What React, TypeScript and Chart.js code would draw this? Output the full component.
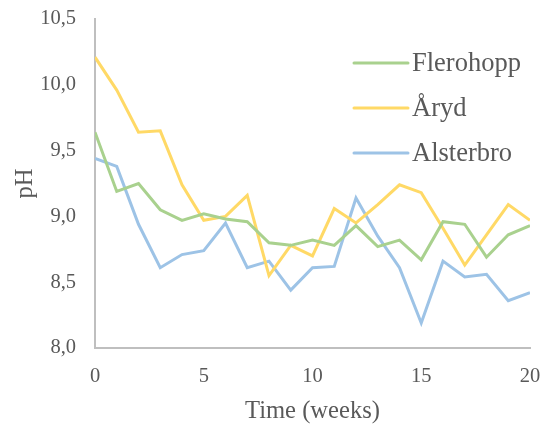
import React, { useEffect, useRef } from "react";
import { Chart, registerables } from "chart.js";

Chart.register(...registerables);

// pH measured weekly at three sites
const weeks = [0, 1, 2, 3, 4, 5, 6, 7, 8, 9, 10, 11, 12, 13, 14, 15, 16, 17, 18, 19, 20];
const flerohopp = [9.64, 9.19, 9.25, 9.05, 8.97, 9.02, 8.98, 8.96, 8.8, 8.78, 8.82, 8.78, 8.93, 8.77, 8.82, 8.67, 8.96, 8.94, 8.69, 8.86, 8.93];
const aryd = [10.21, 9.96, 9.64, 9.65, 9.24, 8.97, 9.0, 9.16, 8.55, 8.78, 8.7, 9.06, 8.95, 9.09, 9.24, 9.18, 8.91, 8.63, 8.86, 9.09, 8.97];
const alsterbro = [9.44, 9.38, 8.94, 8.61, 8.71, 8.74, 8.95, 8.61, 8.66, 8.44, 8.61, 8.62, 9.14, 8.85, 8.61, 8.19, 8.66, 8.54, 8.56, 8.36, 8.42];

const seriesNames = ["Flerohopp", "Åryd", "Alsterbro"];
const seriesColors = ["#A9D18E", "#FFD966", "#9DC3E6"];
const yMin = 8.0;
const yMax = 10.5;
const yStep = 0.5;
const xMin = 0;
const xMax = 20;
const xStep = 5;
const xTitle = "Time (weeks)";
const yTitle = "pH";

const FONT = '"Liberation Serif", "Times New Roman", serif';
const TEXT = "#595959";
const AXIS = "#BFBFBF";

// Legend drawn inside the plot area, at its upper right
const insideLegend = {
  id: "insideLegend",
  afterDatasetsDraw(chart: any) {
    const { ctx, chartArea } = chart;
    ctx.save();
    const x0 = chartArea.right - 176;
    chart.data.datasets.forEach((ds: any, i: number) => {
      const y = chartArea.top + 44 + i * 45;
      ctx.strokeStyle = ds.borderColor;
      ctx.lineWidth = 3;
      ctx.lineCap = "round";
      ctx.beginPath();
      ctx.moveTo(x0, y);
      ctx.lineTo(x0 + 54, y);
      ctx.stroke();
      ctx.fillStyle = TEXT;
      ctx.font = `26.5px ${FONT}`;
      ctx.textBaseline = "middle";
      ctx.textAlign = "left";
      ctx.fillText(ds.label, x0 + 58, y + 1);
    });
    ctx.restore();
  },
};

export default function App() {
  const canvasRef = useRef<HTMLCanvasElement | null>(null);

  useEffect(() => {
    document.body.style.margin = "0";
    const series = [flerohopp, aryd, alsterbro];
    const chart = new Chart(canvasRef.current as HTMLCanvasElement, {
      type: "line",
      data: {
        datasets: series.map((vals, i) => ({
          label: seriesNames[i],
          data: weeks.map((w, j) => ({ x: w, y: vals[j] })),
          borderColor: seriesColors[i],
          backgroundColor: seriesColors[i],
          borderWidth: 3,
          pointRadius: 0,
          tension: 0,
          fill: false,
        })),
      },
      options: {
        animation: false,
        responsive: false,
        devicePixelRatio: 1,
        layout: { padding: { top: 19, right: 20, left: 0, bottom: 0 } },
        plugins: {
          legend: { display: false },
          tooltip: { enabled: false },
        },
        scales: {
          x: {
            type: "linear",
            min: xMin,
            max: xMax,
            grid: { display: false, drawTicks: false },
            border: { display: true, color: AXIS, width: 2 },
            ticks: {
              stepSize: xStep,
              padding: 16,
              color: TEXT,
              font: { family: FONT, size: 20.5 },
              maxRotation: 0,
            },
            title: {
              display: true,
              text: xTitle,
              color: TEXT,
              font: { family: FONT, size: 24.6 },
              padding: { top: 0, bottom: 0 },
            },
            afterFit(scale: any) {
              scale.height = 78;
              scale.paddingLeft = 0;
              scale.paddingRight = 0;
            },
          },
          y: {
            type: "linear",
            min: yMin,
            max: yMax,
            grid: { display: false, drawTicks: false },
            border: { display: true, color: AXIS, width: 2 },
            ticks: {
              stepSize: yStep,
              padding: 19,
              color: TEXT,
              font: { family: FONT, size: 20.5 },
              callback: (v: any) => Number(v).toFixed(1).replace(".", ","),
            },
            title: {
              display: true,
              text: yTitle,
              color: TEXT,
              font: { family: FONT, size: 24.6 },
              padding: { top: 11, bottom: 0 },
            },
            afterFit(scale: any) {
              scale.width = 95;
              scale.paddingTop = 0;
              scale.paddingBottom = 0;
            },
          },
        },
      },
      plugins: [insideLegend],
    });
    return () => chart.destroy();
  }, []);

  return (
    <div style={{ position: "absolute", left: 0, top: 0, width: 550, height: 426, background: "#fff" }}>
      <canvas ref={canvasRef} width={550} height={426} />
    </div>
  );
}
